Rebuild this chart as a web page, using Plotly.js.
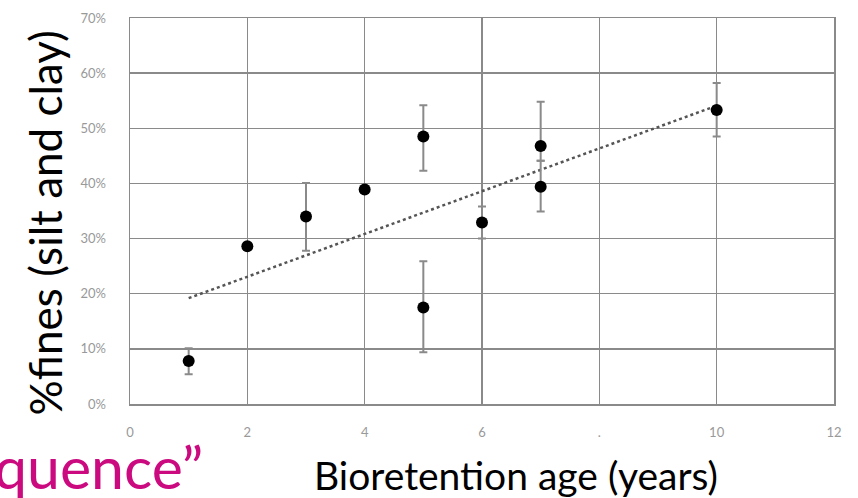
<!DOCTYPE html>
<html>
<head>
<meta charset="utf-8">
<script src="https://cdn.plot.ly/plotly-3.0.1.min.js"></script>
<style>html,body{margin:0;padding:0;background:#fff;}#chart{width:858px;height:498px;}</style>
</head>
<body>
<div id="chart"></div>
<script>
// Bioretention age (years)
const ages = [1, 2, 3, 4, 5, 5, 6, 7, 7, 10];
// % fines (silt and clay)
const fines = [7.8, 28.6, 34.0, 38.9, 48.5, 17.5, 32.9, 46.8, 39.4, 53.3];
const errPlus = [2.3, 0, 6.1, 0, 5.7, 8.4, 2.9, 8.0, 4.7, 4.9];
const errMinus = [2.4, 0, 6.2, 0, 6.2, 8.1, 2.9, 2.7, 4.5, 4.8];
// linear trend endpoints
const trendX = [1, 10];
const trendY = [19.2, 54.1];
const xTickVals = [0, 2, 4, 6, 8, 10, 12];
const xTickText = ['0', '2', '4', '6', '.', '10', '12'];
const yTickVals = [0, 10, 20, 30, 40, 50, 60, 70];
const yTickText = ['0%', '10%', '20%', '30%', '40%', '50%', '60%', '70%'];

const gridCol = '#8a8a8a';
const traces = [
  {
    x: trendX, y: trendY, type: 'scatter', mode: 'lines',
    line: {color: '#555', width: 2.5, dash: 'dot'}, hoverinfo: 'skip'
  },
  {
    x: ages, y: fines, type: 'scatter', mode: 'markers',
    marker: {color: '#000', size: 12},
    error_y: {type: 'data', symmetric: false, array: errPlus, arrayminus: errMinus,
              color: '#8a8a8a', thickness: 2, width: 4}
  }
];
const layout = {
  width: 858, height: 498,
  margin: {l: 130, r: 24, t: 18, b: 94},
  paper_bgcolor: '#fff', plot_bgcolor: '#fff',
  showlegend: false,
  font: {family: 'Lato, "Open Sans", sans-serif', color: '#999'},
  xaxis: {
    range: [0, 12], tickvals: xTickVals, ticktext: xTickText,
    showgrid: true, gridcolor: gridCol, gridwidth: 1.5,
    showline: true, linecolor: gridCol, linewidth: 1.5, mirror: true,
    zeroline: false, ticks: '', ticklabelstandoff: 16,
    tickfont: {size: 13, color: '#999'}
  },
  yaxis: {
    range: [0, 70], tickvals: yTickVals, ticktext: yTickText,
    showgrid: true, gridcolor: gridCol, gridwidth: 1.5,
    showline: true, linecolor: gridCol, linewidth: 1.5, mirror: true,
    zeroline: false, ticks: '', ticklabelstandoff: 20,
    tickfont: {size: 13, color: '#999'}
  },
  annotations: [
    {text: '%fines (silt and clay)', textangle: -90, xref: 'paper', yref: 'paper',
     x: -0.121, y: 0.47, showarrow: false, xanchor: 'center', yanchor: 'middle',
     font: {size: 44, color: '#000', family: 'Lato, "Open Sans", sans-serif'}},
    {text: 'Bioretention age (years)', xref: 'paper', yref: 'paper',
     x: 0.548, y: -0.185, showarrow: false, xanchor: 'center', yanchor: 'middle',
     font: {size: 39, color: '#000', family: 'Lato, "Open Sans", sans-serif'}},
    {text: 'quence\u201d', xref: 'paper', yref: 'paper',
     x: 0.1065, y: -0.163, showarrow: false, xanchor: 'right', yanchor: 'middle',
     font: {size: 59, color: '#cc0a80', family: 'Lato, "Open Sans", sans-serif'}}
  ]
};
Plotly.newPlot('chart', traces, layout, {displayModeBar: false, staticPlot: true});
</script>
</body>
</html>
